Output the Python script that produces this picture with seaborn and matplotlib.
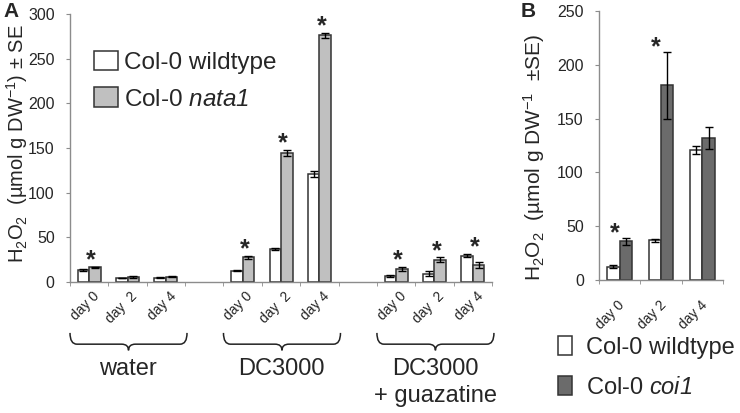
import numpy as np
import pandas as pd
import matplotlib
matplotlib.use("Agg")
import matplotlib.pyplot as plt
import matplotlib.transforms as mtransforms
from matplotlib.patches import Patch, PathPatch
from matplotlib.path import Path
import seaborn as sns

# ---- data ----
days_a = ["day 0", "day  2", "day 4"]
treatments_a = ["water", "DC3000", "DC3000\n+ guazatine"]
wt_a = [13.4, 4.5, 5.0, 12.7, 37.0, 121.0, 6.5, 9.5, 29.5]
wt_a_se = [1.0, 0.5, 0.5, 0.8, 1.5, 3.0, 1.0, 2.5, 2.0]
nata1_a = [16.4, 5.2, 6.0, 27.5, 144.0, 276.0, 14.5, 25.0, 19.0]
nata1_a_se = [0.8, 1.0, 0.5, 2.0, 3.5, 3.0, 2.0, 2.5, 3.0]
stars_a = [True, False, False, True, True, True, True, True, True]

days_b = ["day 0", "day 2", "day 4"]
wt_b = [12.5, 37.0, 121.0]
wt_b_se = [1.0, 1.5, 3.5]
coi1_b = [36.0, 181.0, 132.0]
coi1_b_se = [3.0, 31.0, 10.0]
stars_b = [True, True, False]

WT_COLOR = "#ffffff"
NATA_COLOR = "#c0c0c0"
COI_COLOR = "#6b6b6b"
EDGE = "#333333"
SPINE = "#8c8c8c"

sns.set_style("white")
plt.rcParams["font.family"] = ["Liberation Sans", "DejaVu Sans"]
plt.rcParams["mathtext.fontset"] = "custom"
plt.rcParams["mathtext.rm"] = "Liberation Sans"
plt.rcParams["mathtext.it"] = "Liberation Sans:italic"
plt.rcParams["mathtext.sf"] = "Liberation Sans:italic"  # used for italic gene names incl. digits
plt.rcParams["mathtext.bf"] = "Liberation Sans:bold"
plt.rcParams["mathtext.default"] = "regular"


def slot_names(n_groups):
    # three days per treatment, with an empty slot between treatments
    names = []
    for g in range(n_groups):
        if g > 0:
            names.append(f"gap{g}")
        names += [f"g{g}d{d}" for d in range(3)]
    return names


def draw_panel(ax, order, wt, wt_se, mut, mut_se, mut_name, mut_color, stars, star_dx, star_dy):
    real = [s for s in order if not s.startswith("gap")]
    df = pd.DataFrame({
        "slot": real * 2,
        "genotype": ["wt"] * len(real) + [mut_name] * len(real),
        "value": list(wt) + list(mut),
    })
    sns.barplot(data=df, x="slot", y="value", hue="genotype", order=order,
                hue_order=["wt", mut_name], palette={"wt": WT_COLOR, mut_name: mut_color},
                width=0.6, gap=0, edgecolor=EDGE, linewidth=1.1, legend=False, ax=ax)
    se_lookup = {"wt": dict(zip(real, wt_se)), mut_name: dict(zip(real, mut_se))}
    for cont, geno in zip(ax.containers, ["wt", mut_name]):
        for bar in cont:
            xc = bar.get_x() + bar.get_width() / 2
            slot = order[int(round(xc))]
            ax.errorbar(xc, bar.get_height(), yerr=se_lookup[geno][slot], fmt="none",
                        ecolor="black", elinewidth=1.0, capsize=3.2, capthick=1.0, zorder=5)
    tops = np.maximum(np.array(wt) + np.array(wt_se), np.array(mut) + np.array(mut_se))
    for slot, top, s in zip(real, tops, stars):
        if s:
            ax.annotate("*", (order.index(slot) + star_dx, top), xytext=(0, star_dy),
                        textcoords="offset points", ha="center", va="bottom",
                        fontsize=18, fontweight="bold")
    ax.set_xlim(-0.5, len(order) - 0.5)
    ax.set_xlabel("")
    sns.despine(ax=ax)
    for sp in ["left", "bottom"]:
        ax.spines[sp].set_color(SPINE)
        ax.spines[sp].set_linewidth(1.0)
    ax.set_xticks(np.arange(len(order)))
    ax.set_xticks(np.arange(len(order) + 1) - 0.5, minor=True)
    ax.tick_params(axis="x", which="major", length=0)
    ax.tick_params(axis="x", which="minor", length=3, color=SPINE, direction="out", bottom=True)
    ax.tick_params(axis="y", length=3, color=SPINE, direction="out", left=True,
                   labelsize=11.5, pad=8)


def draw_brace(ax, x0, x1, y_top, y_mid, y_bot, rw):
    xc = (x0 + x1) / 2
    verts = [(x0, y_top), (x0, y_mid), (x0 + rw, y_mid),
             (xc - rw, y_mid), (xc, y_mid), (xc, y_bot),
             (xc, y_mid), (xc + rw, y_mid),
             (x1 - rw, y_mid), (x1, y_mid), (x1, y_top)]
    codes = [Path.MOVETO, Path.CURVE3, Path.CURVE3,
             Path.LINETO, Path.CURVE3, Path.CURVE3,
             Path.CURVE3, Path.CURVE3,
             Path.LINETO, Path.CURVE3, Path.CURVE3]
    trans = mtransforms.blended_transform_factory(ax.transData, ax.transAxes)
    ax.add_patch(PathPatch(Path(verts, codes), transform=trans, fill=False,
                           edgecolor="#222222", linewidth=1.1, clip_on=False))


fig = plt.figure(figsize=(7.4, 4.13), dpi=100)
axA = fig.add_axes([0.0946, 0.3172, 0.5703, 0.6489])
axB = fig.add_axes([0.8095, 0.322, 0.1676, 0.651])

# ---- panel A ----
order_a = slot_names(len(treatments_a))
draw_panel(axA, order_a, wt_a, wt_a_se, nata1_a, nata1_a_se, "nata1", NATA_COLOR,
           stars_a, 0.05, -4)
axA.set_ylim(0, 300)
axA.set_yticks(np.arange(0, 301, 50))
labels_a = ["" if s.startswith("gap") else days_a[int(s[-1])] for s in order_a]
axA.set_xticklabels(labels_a, rotation=45, ha="right", va="top",
                    rotation_mode="anchor", fontsize=10)
axA.tick_params(axis="x", which="major", pad=5)
off = mtransforms.ScaledTranslation(3 / 100, 0, fig.dpi_scale_trans)
for lab in axA.get_xticklabels():
    lab.set_transform(lab.get_transform() + off)
axA.set_ylabel(r"H$_2$O$_2$  (µmol g DW$^{-1}$) ± SE", fontsize=14.5)
axA.yaxis.set_label_coords(-0.095, 0.515)

trans_a = mtransforms.blended_transform_factory(axA.transData, axA.transAxes)
for g, name in enumerate(treatments_a):
    first = g * 4
    draw_brace(axA, first - 0.5, first + 2.55, -0.19, -0.232, -0.255, 0.18)
    axA.text(first + 1.02, -0.282, name, transform=trans_a, ha="center", va="top",
             fontsize=17, linespacing=1.3)

axA.legend(handles=[Patch(facecolor=WT_COLOR, edgecolor=EDGE, linewidth=1.1, label="Col-0 wildtype"),
                    Patch(facecolor=NATA_COLOR, edgecolor=EDGE, linewidth=1.1,
                          label=r"Col-0 $\mathsf{nata1}$")],
           loc="upper left", bbox_to_anchor=(94 / 740, 1 - 51 / 413),
           bbox_transform=fig.transFigure, frameon=False, fontsize=17.5,
           handlelength=1.0, handleheight=0.85, handletextpad=0.25,
           labelspacing=0.55, borderpad=0, borderaxespad=0)

# ---- panel B ----
order_b = slot_names(1)
draw_panel(axB, order_b, wt_b, wt_b_se, coi1_b, coi1_b_se, "coi1", COI_COLOR,
           stars_b, -0.12, -5)
axB.set_ylim(0, 250)
axB.set_yticks(np.arange(0, 251, 50))
axB.set_xticklabels(days_b, rotation=45, ha="right", va="top",
                    rotation_mode="anchor", fontsize=10)
axB.tick_params(axis="x", which="major", pad=13)
offb = mtransforms.ScaledTranslation(-2 / 100, 0, fig.dpi_scale_trans)
for lab in axB.get_xticklabels():
    lab.set_transform(lab.get_transform() + offb)
axB.set_ylabel(r"H$_2$O$_2$  (µmol g DW$^{-1}$  ±SE)", fontsize=15)
axB.yaxis.set_label_coords(-0.42, 0.455)

fig.legend(handles=[Patch(facecolor=WT_COLOR, edgecolor=EDGE, linewidth=1.1, label="Col-0 wildtype"),
                    Patch(facecolor=COI_COLOR, edgecolor=EDGE, linewidth=1.1,
                          label=r"Col-0 $\mathsf{coi1}$")],
           loc="upper left", bbox_to_anchor=(558 / 740, 1 - 336 / 413),
           frameon=False, fontsize=17, handlelength=0.6, handleheight=0.85,
           handletextpad=0.6, labelspacing=0.75, borderpad=0, borderaxespad=0)

# panel letters
fig.text(3 / 740, 1 - 2 / 413, "A", fontsize=15, fontweight="bold", va="top", ha="left")
fig.text(521 / 740, 1 - 2 / 413, "B", fontsize=15, fontweight="bold", va="top", ha="left")

fig.savefig("out.png", dpi=100)
